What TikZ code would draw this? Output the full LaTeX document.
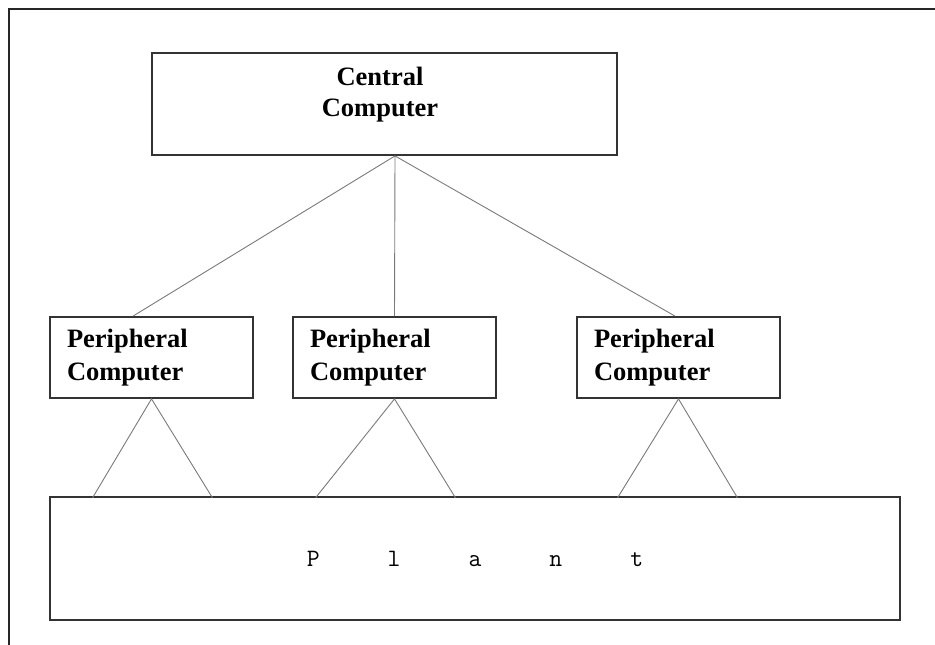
\documentclass[tikz,border=0pt]{standalone}
\usepackage{fontspec}
\setmainfont{Liberation Serif}
\usetikzlibrary{calc}
\definecolor{boxc}{HTML}{333333}
\definecolor{connc}{HTML}{7A7A7A}
\begin{document}
\begin{tikzpicture}[x=1pt,y=-1pt,
  box/.style={draw=boxc, line width=1.8pt, inner sep=0pt},
  pbox/.style={box, minimum height=81pt, text width=169pt, inner xsep=17pt, align=left,
    font=\bfseries\fontsize{26.5}{33}\selectfont},
  ctext/.style={align=center, inner sep=0pt, font=\bfseries\fontsize{26.5}{31}\selectfont},
  conn/.style={draw=connc, line width=0.9pt}]
\useasboundingbox (0,0) rectangle (935,645);
\fill[white] (0,0) rectangle (935,645);
\draw[line width=2pt, black!85] (9,645) -- (9,9) -- (935,9);
% central
\node[box, minimum width=465pt, minimum height=102pt] (cc) at (384.5,104) {};
\node[ctext] (ct) at (380,95) {Central\\Computer};
% peripherals
\node[pbox] (p1) at (151.5,357.5) {Peripheral\\Computer};
\node[pbox] (p2) at (394.5,357.5) {Peripheral\\Computer};
\node[pbox] (p3) at (678.5,357.5) {Peripheral\\Computer};
% plant
\node[box, minimum width=850pt, minimum height=123pt, font=\ttfamily\fontsize{25}{25}\selectfont] (pl) at (475,558.5)
  {P\hspace{68pt}l\hspace{68pt}a\hspace{68pt}n\hspace{68pt}t};
% upper connectors
\coordinate (cb) at ($(cc.south)+(10.5,0)$);
\draw[conn] (cb) -- ($(p1.north)+(-18.5,0)$);
\draw[conn] (cb) -- (p2.north);
\draw[conn] (cb) -- ($(p3.north)+(-3.5,0)$);
% lower connectors
\coordinate (f1a) at ($(p1.south)+(-59,99)$);
\coordinate (f1b) at ($(p1.south)+(61,99)$);
\coordinate (f2a) at ($(p2.south)+(-79,99)$);
\coordinate (f2b) at ($(p2.south)+(61,99)$);
\coordinate (f3a) at ($(p3.south)+(-61,99)$);
\coordinate (f3b) at ($(p3.south)+(59,99)$);
\draw[conn] (f1a) -- (p1.south) -- (f1b);
\draw[conn] (f2a) -- (p2.south) -- (f2b);
\draw[conn] (f3a) -- (p3.south) -- (f3b);
\end{tikzpicture}
\end{document}
